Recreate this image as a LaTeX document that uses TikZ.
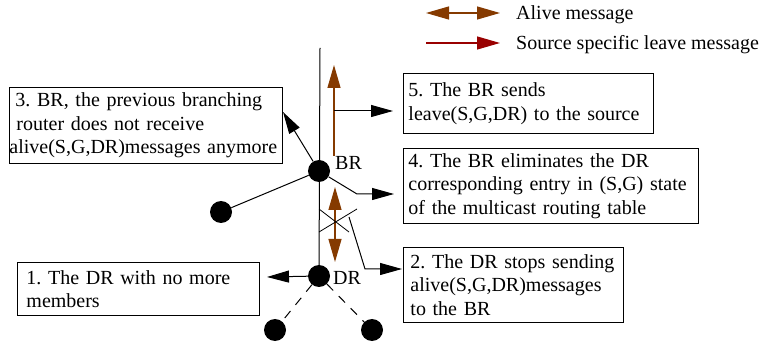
\documentclass[tikz,border=0pt]{standalone}
\usepackage{fontspec}
\setmainfont{Liberation Serif}
\usetikzlibrary{arrows.meta}
\definecolor{alivebrown}{RGB}{133,58,0}
\definecolor{leavered}{RGB}{153,0,0}
\begin{document}
\begin{tikzpicture}[x=1pt,y=-1pt,
  txt/.style={font=\fontsize{20}{23.5}\selectfont\frenchspacing, inner sep=0pt},
  box/.style={txt, draw, line width=0.9pt, anchor=north west, align=left, inner xsep=0pt, inner ysep=0pt},
  router/.style={circle, fill=black, minimum size=22pt, inner sep=0pt},
  link/.style={line width=1pt},
  arr/.style={line width=1pt, -{Triangle[length=22pt,width=12pt]}},
  alive/.style={line width=1.2pt, alivebrown, {Triangle[length=23pt,width=13pt]}-{Triangle[length=23pt,width=13pt]}},
  upmsg/.style={line width=1.2pt, alivebrown, -{Triangle[length=23pt,width=13pt]}},
  leave/.style={line width=1.2pt, leavered, -{Triangle[length=23pt,width=13pt]}}]
\useasboundingbox (0,0) rectangle (763,347);

% legend
\coordinate (la1) at (426,13);  \coordinate (la2) at (500,13);
\coordinate (ll1) at (426,43);  \coordinate (ll2) at (500,43);
\draw[alive] (la1) -- (la2);
\draw[leave] (ll1) -- (ll2);
\node[txt, anchor=base west] (legA) at (516,20) {Alive message};
\node[txt, anchor=base west] (legL) at (516,50) {Source specific leave message};

% routers
\node[router] (br) at (319,171) {};
\node[router] (dr) at (319,276) {};
\node[router] (lf) at (221,212) {};
\node[router] (b1) at (275,330) {};
\node[router] (b2) at (372,330) {};
\node[txt, anchor=base west] (brl) at (335,170) {BR};
\node[txt, anchor=base west] (drl) at (333,285) {DR};

% tree links
\coordinate (top) at (320,48);
\draw[link] (top) -- (dr);
\draw[link] (br) -- (lf);
\draw[link, dash pattern=on 9pt off 8pt] (dr) -- (b1);
\draw[link, dash pattern=on 9pt off 8pt] (dr) -- (b2);

% text boxes
\node[box, text width=273pt, minimum height=76pt] (t3) at (9,87)
  {\hspace*{6pt}3. BR, the previous branching\\
   \hspace*{7pt}router does not receive\\
   alive(S,G,DR)messages anymore};
\node[box, text width=250pt, minimum height=60pt] (t5) at (403,73)
  {\hspace*{5pt}5. The BR sends\\
   \hspace*{5pt}leave(S,G,DR) to the source};
\node[box, text width=295pt, minimum height=75pt] (t4) at (403,148)
  {\hspace*{5pt}4. The BR eliminates the DR\\
   \hspace*{5pt}corresponding entry in (S,G) state\\
   \hspace*{5pt}of the multicast routing table};
\node[box, text width=220pt, minimum height=75pt] (t2) at (403,247)
  {\hspace*{7pt}2. The DR stops sending\\
   \hspace*{7pt}alive(S,G,DR)messages\\
   \hspace*{7pt}to the BR};
\node[box, text width=242pt, minimum height=53pt] (t1) at (17,262)
  {\hspace*{9pt}1. The DR with no more\\
   \hspace*{9pt}members};

% messages
\coordinate (up0) at (334,156);  \coordinate (up1) at (334,65);
\draw[upmsg] (up0) -- (up1);
\coordinate (a0) at (335,187);  \coordinate (a1) at (335,262);
\draw[alive] (a0) -- (a1);

% crossed-out alive path
\coordinate (x1) at (319,209); \coordinate (x2) at (349,232);
\coordinate (x3) at (319,232); \coordinate (x4) at (357,209);
\draw[line width=0.8pt] (x1) -- (x2);
\draw[line width=0.8pt] (x3) -- (x4);

% pointers to the boxes
\coordinate (p3) at (283,112);
\draw[arr] (br) -- (p3);
\coordinate (s5) at (334,111); \coordinate (p5) at (393,111);
\draw[arr] (s5) -- (p5);
\coordinate (k4) at (357,194); \coordinate (p4) at (394,194);
\draw[arr] (br) -- (k4) -- (p4);
\coordinate (s2) at (349,217); \coordinate (k2) at (365,269); \coordinate (p2) at (402,269);
\draw[arr] (s2) -- (k2) -- (p2);
\coordinate (p1) at (267,277);
\draw[arr] (dr) -- (p1);
\end{tikzpicture}
\end{document}
